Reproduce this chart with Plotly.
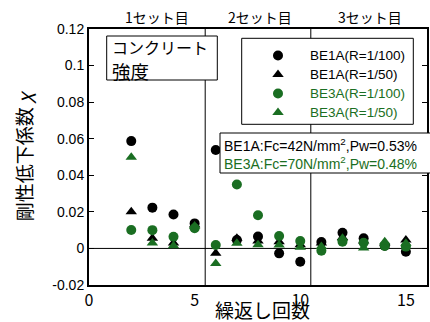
import plotly.graph_objects as go

cycles = [2, 3, 4, 5, 6, 7, 8, 9, 10, 11, 12, 13, 14, 15]
be1a_r100 = [0.0587, 0.0223, 0.0186, 0.0137, 0.0538, 0.0046, 0.0065, -0.0027, -0.0073, 0.0035, 0.0086, 0.0055, 0.0015, -0.0018]
be1a_r50 = [0.0201, 0.0055, 0.0030, 0.0130, -0.0027, 0.0055, 0.0040, 0.0037, 0.0020, 0.0030, 0.0060, 0.0040, 0.0030, 0.0046]
be3a_r100 = [0.0101, 0.0100, 0.0064, 0.0110, 0.0019, 0.0350, 0.0181, 0.0068, 0.0040, -0.0013, 0.0037, 0.0031, 0.0013, 0.0010]
be3a_r50 = [0.0498, 0.0030, 0.0015, 0.0122, -0.0082, 0.0028, 0.0020, 0.0019, 0.0006, 0.0010, 0.0055, 0.0003, 0.0037, 0.0028]
set_labels = ["1セット目", "2セット目", "3セット目"]
set_label_x = [3.2, 8.1, 13.3]
set_bounds = [5.5, 10.5]
y_ticks = [-0.02, 0, 0.02, 0.04, 0.06, 0.08, 0.1, 0.12]
x_ticks = [0, 5, 10, 15]

GREEN = "#1a6e22"
W, H = 430, 322
L, R, T, B = 89, 3, 29, 37
PW, PH = W - L - R, H - T - B


def px(x):
    return (x - L) / PW


def py(y):
    return (H - B - y) / PH


fig = go.Figure()
series = [
    ("BE1A(R=1/100)", be1a_r100, "circle", "black"),
    ("BE1A(R=1/50)", be1a_r50, "triangle-up", "black"),
    ("BE3A(R=1/100)", be3a_r100, "circle", GREEN),
    ("BE3A(R=1/50)", be3a_r50, "triangle-up", GREEN),
]
for name, vals, sym, col in series:
    fig.add_trace(go.Scatter(
        x=cycles, y=vals, mode="markers",
        name=f"<span style='font-size:13.5px;fill:{col}'>{name}</span>",
        marker=dict(symbol=sym, size=10, color=col, line=dict(width=0)),
    ))

shapes = []
shapes.append(dict(type="line", xref="paper", yref="y", x0=0, x1=1, y0=0, y1=0,
                   line=dict(color="black", width=1), layer="below"))
for b in set_bounds:
    shapes.append(dict(type="line", xref="x", yref="paper", x0=b, x1=b, y0=0, y1=1,
                       line=dict(color="black", width=1), layer="below"))
for (x0, x1, y0, y1) in [(106.7, 217.3, 36, 80), (241.7, 413.3, 38.3, 124.3), (220, 445, 133, 173)]:
    shapes.append(dict(type="rect", xref="paper", yref="paper",
                       x0=px(x0), x1=px(x1), y0=py(y1), y1=py(y0),
                       line=dict(color="black", width=1), fillcolor="white", layer="above"))

annotations = []
for lab, lx in zip(set_labels, set_label_x):
    annotations.append(dict(x=lx, y=py(17), xref="x", yref="paper", text=lab,
                            showarrow=False, font=dict(family="Noto Sans CJK JP", size=14, color="black"),
                            xanchor="center", yanchor="middle"))
for line_text, ly, fs in [("コンクリート", 47, 16), ("強度", 70.5, 18.5)]:
    annotations.append(dict(x=px(110), y=py(ly), xref="paper", yref="paper",
                            text=line_text, showarrow=False,
                            xanchor="left", yanchor="middle",
                            font=dict(family="Noto Sans CJK JP", size=fs, color="black")))
annotations.append(dict(x=px(222), y=py(145), xref="paper", yref="paper",
                        text="BE1A:Fc=42N/mm<sup>2</sup>,Pw=0.53%",
                        showarrow=False, xanchor="left", yanchor="middle",
                        font=dict(family="Liberation Sans", size=14, color="black")))
annotations.append(dict(x=px(222), y=py(163), xref="paper", yref="paper",
                        text="BE3A:Fc=70N/mm<sup>2</sup>,Pw=0.48%",
                        showarrow=False, xanchor="left", yanchor="middle",
                        font=dict(family="Liberation Sans", size=14, color=GREEN)))
annotations.append(dict(x=px(262), y=py(309.5), xref="paper", yref="paper",
                        text="繰返し回数", showarrow=False, xanchor="center", yanchor="middle",
                        font=dict(family="Noto Sans CJK JP", size=19, color="black")))

fig.update_layout(
    width=W, height=H,
    margin=dict(l=L, r=R, t=T, b=B),
    paper_bgcolor="white", plot_bgcolor="white",
    shapes=shapes, annotations=annotations,
    showlegend=True,
    legend=dict(x=px(246), y=py(41), xanchor="left", yanchor="top",
                bgcolor="rgba(0,0,0,0)", borderwidth=0, itemwidth=54,
                font=dict(family="Liberation Sans", size=11.8, color="black")),
    xaxis=dict(range=[0, 16], tickvals=x_ticks, ticks="", showgrid=False, zeroline=False,
               showline=True, linecolor="black", linewidth=2, mirror=True, automargin=False,
               tickfont=dict(family="Noto Sans CJK JP", size=16, color="black")),
    yaxis=dict(range=[-0.02, 0.12], tickvals=y_ticks,
               ticktext=["-0.02", "0", "0.02", "0.04", "0.06", "0.08", "0.1", "0.12"],
               ticks="inside", ticklen=5, tickcolor="black", showgrid=False, zeroline=False,
               showline=True, linecolor="black", linewidth=2, mirror="ticks", automargin=False,
               tickfont=dict(family="Liberation Sans", size=14, color="black"),
               title=dict(text="剛性低下係数 <i>χ</i>", font=dict(family="Noto Sans CJK JP", size=19, color="black"),
                          standoff=15)),
)

fig.write_html("out.html")
